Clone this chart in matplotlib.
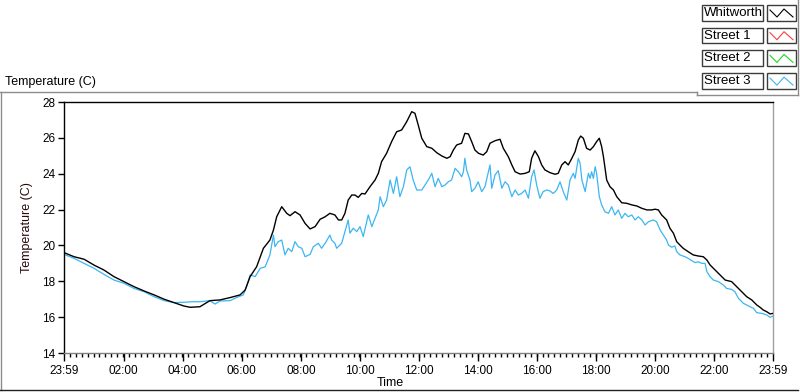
import matplotlib.pyplot as plt
from matplotlib.lines import Line2D
from matplotlib.patches import Rectangle

plt.rcParams['font.family'] = ['Liberation Sans', 'DejaVu Sans']

# hours since 23:59 and temperature (C)
whitworth_h = [
    0.00, 0.34, 0.68, 1.02, 1.35, 1.69, 2.03, 2.37, 2.71, 3.05, 3.39, 3.72, 4.06, 4.27,
    4.60, 4.94, 5.28, 5.62, 5.96, 6.13, 6.30, 6.52, 6.75, 6.97, 7.09, 7.20, 7.37, 7.54,
    7.65, 7.82, 7.99, 8.16, 8.33, 8.50, 8.67, 8.84, 9.00, 9.17, 9.29, 9.40, 9.51, 9.62,
    9.74, 9.85, 9.96, 10.08, 10.19, 10.36, 10.53, 10.64, 10.75, 10.92, 11.09, 11.26,
    11.43, 11.60, 11.77, 11.88, 11.99, 12.11, 12.28, 12.45, 12.62, 12.79, 12.96, 13.07,
    13.18, 13.29, 13.46, 13.57, 13.69, 13.80, 13.91, 14.03, 14.19, 14.31, 14.42, 14.59,
    14.76, 14.87, 15.04, 15.16, 15.27, 15.44, 15.61, 15.75, 15.83, 15.94, 16.06, 16.17,
    16.28, 16.45, 16.62, 16.73, 16.85, 16.96, 17.07, 17.19, 17.30, 17.41, 17.49, 17.58,
    17.69, 17.81, 17.92, 18.03, 18.12, 18.20, 18.26, 18.37, 18.48, 18.60, 18.71, 18.88,
    19.05, 19.22, 19.39, 19.56, 19.73, 19.89, 20.01, 20.12, 20.23, 20.40, 20.51, 20.63,
    20.74, 20.85, 20.96, 21.13, 21.30, 21.47, 21.64, 21.76, 21.87, 22.04, 22.21, 22.38,
    22.60, 22.77, 22.94, 23.11, 23.28, 23.45, 23.56, 23.67, 23.79, 23.90, 24.00,
]
whitworth_t = [
    19.60, 19.37, 19.23, 18.90, 18.63, 18.26, 17.98, 17.70, 17.46, 17.24, 17.00, 16.81, 16.62, 16.55,
    16.58, 16.92, 16.96, 17.09, 17.24, 17.51, 18.26, 18.81, 19.84, 20.30, 20.86, 21.60, 22.16, 21.79,
    21.66, 21.88, 21.70, 21.23, 20.92, 21.05, 21.46, 21.60, 21.79, 21.70, 21.42, 21.42, 21.79, 22.53,
    22.81, 22.81, 22.68, 22.90, 22.87, 23.28, 23.65, 24.02, 24.67, 25.14, 25.79, 26.34,
    26.44, 26.90, 27.46, 27.37, 26.72, 25.98, 25.51, 25.42, 25.17, 24.99, 24.86, 24.95,
    25.32, 25.60, 25.70, 26.25, 26.22, 25.79, 25.32, 25.14, 25.04, 25.23, 25.70, 25.84,
    25.92, 25.42, 24.95, 24.49, 24.11, 23.98, 24.02, 24.11, 24.86, 25.28, 24.95, 24.49,
    24.21, 24.06, 23.97, 24.02, 24.49, 24.67, 24.49, 24.86, 25.23, 25.88, 26.10, 25.98,
    25.42, 25.32, 25.51, 25.79, 25.98, 25.51, 24.95, 23.65, 23.28, 23.09, 22.72, 22.38,
    22.35, 22.26, 22.20, 22.07, 21.98, 21.98, 22.02, 21.98, 21.70, 21.42, 20.96, 20.68,
    20.21, 20.02, 19.84, 19.65, 19.47, 19.41, 19.37, 19.19, 18.91, 18.63, 18.35, 18.07,
    17.98, 17.70, 17.42, 17.14, 16.96, 16.68, 16.55, 16.40, 16.30, 16.18, 16.21,
]

street3_h = [
    0.00, 0.34, 0.68, 1.02, 1.35, 1.69, 2.03, 2.37, 2.71, 3.05, 3.39, 3.72, 4.06, 4.33,
    4.60, 4.94, 5.11, 5.28, 5.62, 5.85, 6.07, 6.18, 6.30, 6.47, 6.64, 6.81, 6.97, 7.09,
    7.14, 7.25, 7.37, 7.48, 7.59, 7.71, 7.82, 7.93, 8.05, 8.16, 8.33, 8.44, 8.61, 8.72,
    8.84, 9.00, 9.06, 9.17, 9.23, 9.40, 9.51, 9.62, 9.68, 9.79, 9.91, 10.02, 10.13,
    10.30, 10.42, 10.53, 10.64, 10.70, 10.81, 10.92, 11.04, 11.15, 11.26, 11.37, 11.49,
    11.60, 11.71, 11.82, 11.94, 12.11, 12.22, 12.33, 12.45, 12.56, 12.67, 12.79, 12.90,
    13.01, 13.12, 13.24, 13.35, 13.46, 13.52, 13.57, 13.63, 13.74, 13.80, 13.91, 14.02,
    14.14, 14.25, 14.42, 14.48, 14.59, 14.70, 14.82, 14.93, 15.04, 15.16, 15.27, 15.38,
    15.49, 15.61, 15.72, 15.83, 15.91, 16.00, 16.11, 16.22, 16.34, 16.45, 16.56, 16.68,
    16.79, 16.90, 17.02, 17.13, 17.24, 17.30, 17.41, 17.47, 17.53, 17.64, 17.75, 17.81,
    17.86, 17.92, 17.98, 18.03, 18.12, 18.20, 18.31, 18.43, 18.54, 18.65, 18.76, 18.88,
    18.99, 19.10, 19.22, 19.33, 19.44, 19.56, 19.67, 19.78, 19.95, 20.06, 20.18, 20.29,
    20.40, 20.46, 20.57, 20.68, 20.74, 20.85, 21.02, 21.13, 21.25, 21.36, 21.47, 21.59,
    21.70, 21.76, 21.87, 21.98, 22.15, 22.32, 22.43, 22.60, 22.71, 22.83, 23.00, 23.17,
    23.34, 23.45, 23.62, 23.79, 23.90, 24.00,
]
street3_t = [
    19.50, 19.28, 19.00, 18.72, 18.39, 18.07, 17.89, 17.60, 17.42, 17.14, 16.92, 16.81, 16.83, 16.86,
    16.86, 16.92, 16.73, 16.90, 16.92, 17.10, 17.24, 17.70, 18.35, 18.26, 18.72, 18.81, 19.47, 20.58,
    19.93, 20.21, 20.30, 19.47, 19.84, 19.65, 20.21, 19.93, 19.84, 19.37, 19.50, 19.93, 20.12, 19.84,
    20.12, 20.58, 20.30, 20.12, 19.84, 20.12, 20.77, 21.42, 20.68, 20.96, 20.77, 21.05, 20.49,
    21.70, 21.05, 21.51, 21.98, 22.72, 22.16, 22.53, 23.65, 22.90, 23.83, 22.72, 23.28,
    24.20, 24.39, 23.65, 23.09, 23.09, 23.37, 23.65, 24.02, 23.28, 23.74, 23.28, 23.37,
    23.55, 23.65, 24.30, 24.11, 23.83, 24.11, 24.86, 24.21, 23.65, 23.00, 23.19, 23.55,
    23.00, 23.28, 24.49, 23.19, 23.93, 24.17, 23.19, 23.55, 23.37, 22.72, 23.09, 22.81,
    22.90, 23.09, 22.63, 23.83, 24.21, 23.37, 22.63, 23.00, 23.09, 23.04, 22.90, 23.09,
    23.55, 23.00, 22.53, 23.65, 24.02, 23.74, 24.86, 24.58, 23.65, 23.00, 24.02, 23.74,
    24.11, 23.74, 24.39, 24.02, 22.72, 22.26, 21.88, 21.79, 22.16, 21.70, 21.98, 21.51,
    21.79, 21.60, 21.70, 21.42, 21.60, 21.42, 21.14, 21.32, 21.42, 21.32, 20.86, 20.58,
    20.30, 20.02, 19.90, 19.97, 19.65, 19.47, 19.37, 19.28, 19.15, 19.04, 19.09, 19.00,
    19.00, 18.54, 18.26, 18.07, 17.98, 17.79, 17.60, 17.55, 17.42, 17.05, 16.77, 16.62,
    16.49, 16.25, 16.21, 16.12, 15.99, 16.06,
]

series_names = ['Whitworth', 'Street 1', 'Street 2', 'Street 3']
series_colors = ['#000000', '#ff3b3b', '#1ed81e', '#3cb6f2']

x_ticks = [0] + [2 * k + 1 / 60 for k in range(1, 12)] + [24]
x_labels = ['23:59', '02:00', '04:00', '06:00', '08:00', '10:00', '12:00',
            '14:00', '16:00', '18:00', '20:00', '22:00', '23:59']
y_ticks = [14, 16, 18, 20, 22, 24, 26, 28]

W, H = 800, 392


def px(x, y):
    """pixel position (top-left origin) -> figure fraction"""
    return x / W, 1 - y / H


fig = plt.figure(figsize=(W / 100, H / 100), dpi=100)
fig.patch.set_facecolor('white')

left, top = px(64, 102)
right, bottom = px(773, 353)
ax = fig.add_axes([left, bottom, right - left, top - bottom])

ax.plot(whitworth_h, whitworth_t, color=series_colors[0], lw=1.0, zorder=3)
ax.plot(street3_h, street3_t, color=series_colors[3], lw=0.9, zorder=2)

ax.set_xlim(0, 24)
ax.set_ylim(14, 28)
ax.set_xticks(x_ticks)
ax.set_xticklabels(x_labels)
ax.set_xticks([i * 0.2 for i in range(121)], minor=True)
ax.set_yticks(y_ticks)
ax.tick_params(axis='both', labelsize=8.5, direction='out', colors='black')
ax.tick_params(axis='x', which='major', length=6, width=1, pad=3)
ax.tick_params(axis='x', which='minor', length=3, width=1)
ax.tick_params(axis='y', which='major', length=4, width=1, pad=2)

ax.spines['left'].set_color('black')
ax.spines['top'].set_color('black')
ax.spines['bottom'].set_color('#808080')
ax.spines['right'].set_color('#a0a0a0')
for s in ax.spines.values():
    s.set_linewidth(1)

ax.set_xlabel('Time', fontsize=9, va='center')
ax.xaxis.set_label_coords(0.46, -30 / 251)
ax.set_ylabel('Temperature (C)', fontsize=9, color='#2a0808', labelpad=7)

# chart panel frame
fig.add_artist(Line2D(*zip(px(0, 92), px(697, 92)), color='#8c8c8c', lw=1))
fig.add_artist(Line2D(*zip(px(0.5, 92), px(0.5, 390)), color='#8c8c8c', lw=1))
fig.add_artist(Line2D(*zip(px(0, 390), px(798, 390)), color='#202020', lw=1))
fig.text(*px(5, 82), 'Temperature (C)', fontsize=9, va='center', ha='left')

# legend panel
fig.add_artist(Line2D(*zip(px(798, 0), px(798, 95)), color='#8c8c8c', lw=1))
fig.add_artist(Line2D(*zip(px(697, 95), px(798, 95)), color='#8c8c8c', lw=1))
fig.add_artist(Line2D(*zip(px(697, 92), px(697, 95)), color='#8c8c8c', lw=1))

for i, (name, color) in enumerate(zip(series_names, series_colors)):
    y0 = 5 + i * 22.7
    bx, by = px(702, y0 + 15.5)
    fig.add_artist(Rectangle((bx, by), 61 / W, 15.5 / H, transform=fig.transFigure,
                             facecolor='white', edgecolor='#3c3c3c', lw=1))
    fig.text(*px(704, y0 + 8), name, fontsize=9.5, va='center', ha='left')
    sx, sy = px(767, y0 + 15.5)
    fig.add_artist(Rectangle((sx, sy), 29 / W, 15.5 / H, transform=fig.transFigure,
                             facecolor='white', edgecolor='#3c3c3c', lw=1))
    zx = [770, 777, 784, 793]
    zy = [y0 + 5, y0 + 12, y0 + 4, y0 + 12]
    pts = [px(a, b) for a, b in zip(zx, zy)]
    fig.add_artist(Line2D([p[0] for p in pts], [p[1] for p in pts], color=color, lw=0.8))

fig.savefig('out.png', dpi=100)
